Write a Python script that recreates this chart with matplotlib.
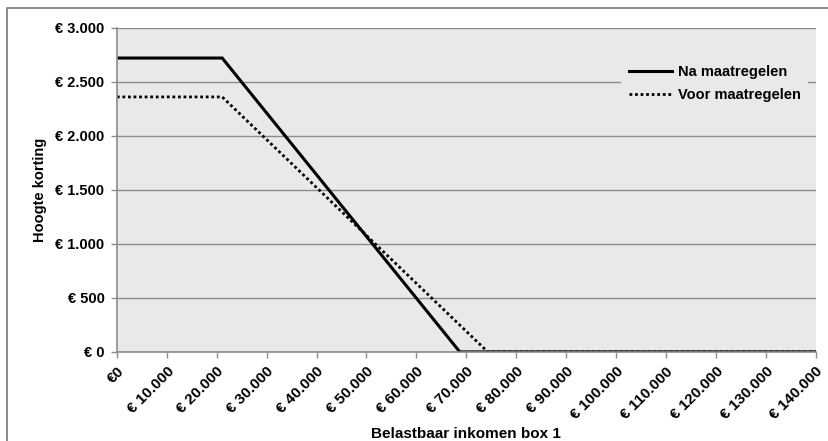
import matplotlib

matplotlib.use("Agg")
import matplotlib.pyplot as plt
from matplotlib.lines import Line2D
from matplotlib.ticker import FuncFormatter, MultipleLocator

# Arbeidskorting naar belastbaar inkomen box 1
inkomen_na = [0, 21100, 68700, 140000]
korting_na = [2720, 2720, 0, 0]
inkomen_voor = [0, 21100, 74300, 140000]
korting_voor = [2360, 2360, 0, 0]


def euro(v, pos=None, space=True):
    s = f"{int(round(v)):,}".replace(",", ".")
    return f"€ {s}" if space else f"€{s}"


plt.rcParams["font.family"] = ["Liberation Sans", "DejaVu Sans"]
plt.rcParams["font.weight"] = "bold"

fig = plt.figure(figsize=(8.29, 4.41), dpi=100)
# outer chart border (only top and left edge fall inside the image)
fig.lines.append(Line2D([0.0085, 0.0085, 1.0], [0.0, 0.982, 0.982], transform=fig.transFigure,
                        color="#8a8a8a", lw=1.4))
ax = fig.add_axes([0.141, 0.202, 0.843, 0.735])
ax.set_facecolor("#e9e9e9")

ax.plot(inkomen_na, korting_na, color="black", lw=2.2, label="Na maatregelen",
        solid_joinstyle="miter")
ax.plot(inkomen_voor, korting_voor, color="black", lw=2.0, ls=(0, (1, 1)),
        label="Voor maatregelen")

ax.set_xlim(0, 140000)
ax.set_ylim(0, 3000)
ax.xaxis.set_major_locator(MultipleLocator(10000))
ax.yaxis.set_major_locator(MultipleLocator(500))
ax.xaxis.set_major_formatter(FuncFormatter(lambda v, p: euro(v, space=v != 0)))
ax.yaxis.set_major_formatter(FuncFormatter(euro))
ax.grid(axis="y", color="#8c8c8c", lw=1.0)
ax.set_axisbelow(True)
for side in ("top", "right"):
    ax.spines[side].set_visible(False)
for side in ("left", "bottom"):
    ax.spines[side].set_color("#8c8c8c")
    ax.spines[side].set_linewidth(1.2)
ax.tick_params(axis="both", color="#8c8c8c", length=4, width=1.0, labelsize=10.5)
ax.tick_params(axis="y", pad=5)
ax.tick_params(axis="x", pad=5, labelsize=11)
plt.setp(ax.get_xticklabels(), rotation=45, ha="right", rotation_mode="anchor")

# x-axis title sits right at the bottom edge of the chart
fig.text(0.562, 3.5 / 441, "Belastbaar inkomen box 1", fontsize=11, fontweight="bold",
         ha="center", va="baseline")
ax.set_ylabel("Hoogte korting", fontsize=10.5, fontweight="bold", labelpad=6)

leg = ax.legend(loc="upper right", bbox_to_anchor=(1.0, 0.93), frameon=True,
                fontsize=10.5, handlelength=3.0, handletextpad=0.4, labelspacing=0.6,
                borderpad=0.5)
leg.get_frame().set_facecolor("#e9e9e9")
leg.get_frame().set_edgecolor("none")
leg.get_frame().set_alpha(1.0)

fig.savefig("out.png", dpi=100)
